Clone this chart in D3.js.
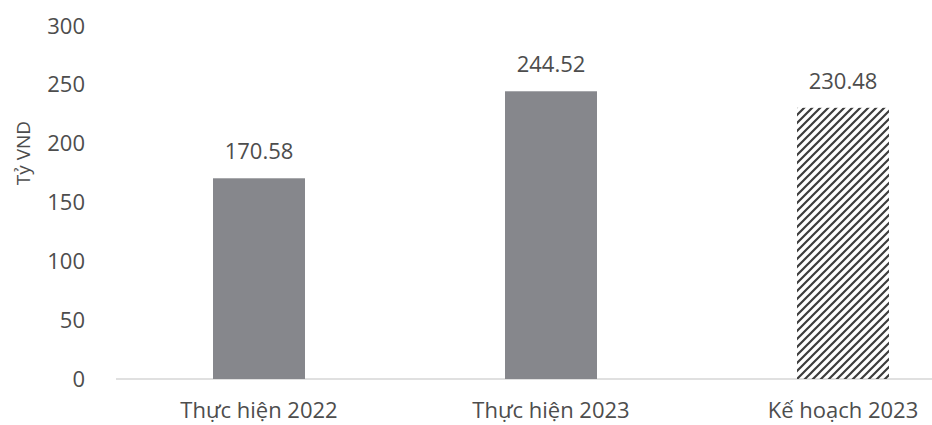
<!DOCTYPE html>
<html><head><meta charset="utf-8">
<script src="https://cdn.jsdelivr.net/npm/d3@7"></script>
<style>body{margin:0;background:#fff}svg{display:block}</style>
</head><body>
<svg id="c" width="932" height="425"></svg>
<script>
const categories = ["Thực hiện 2022", "Thực hiện 2023", "Kế hoạch 2023"];
const values = [170.58, 244.52, 230.48];
const hatched = [false, false, true];
const yTicks = [0, 50, 100, 150, 200, 250, 300];
const yTitle = "Tỷ VND";

const svg = d3.select("#c");
const font = "'Open Sans', sans-serif";
const textColor = "#4d4d4d";

const x = d3.scaleBand().domain(categories).range([113, 989]).paddingInner(0.685).paddingOuter(0.3425);
const y = d3.scaleLinear().domain([0, 300]).range([379, 26]);

const defs = svg.append("defs");
const pat = defs.append("pattern").attr("id", "hatch").attr("patternUnits", "userSpaceOnUse")
  .attr("width", 8).attr("height", 8);
pat.append("path").attr("d", "M-2,2 L2,-2 M0,8 L8,0 M6,10 L10,6")
  .attr("stroke", "#3c3c3c").attr("stroke-width", 2.2);

// baseline
svg.append("line").attr("x1", 116).attr("x2", 932).attr("y1", y(0)).attr("y2", y(0))
  .attr("stroke", "#d6d6d6").attr("stroke-width", 1.5);

// y axis
const yAxis = svg.append("g").attr("transform", "translate(85,0)")
  .call(d3.axisLeft(y).tickValues(yTicks).tickSize(0).tickPadding(0));
yAxis.select(".domain").remove();
yAxis.selectAll("text").attr("font-family", font).attr("font-size", 22).attr("fill", textColor);

svg.append("text").attr("transform", `translate(30,${y(192)}) rotate(-90)`)
  .attr("text-anchor", "middle").attr("font-family", font).attr("font-size", 19)
  .attr("fill", textColor).text(yTitle);

// bars
svg.selectAll("rect.bar").data(categories).enter().append("rect").attr("class", "bar")
  .attr("x", d => x(d)).attr("width", x.bandwidth())
  .attr("y", (d, i) => y(values[i])).attr("height", (d, i) => y(0) - y(values[i]))
  .attr("fill", (d, i) => hatched[i] ? "url(#hatch)" : "#86878c");

// value labels
svg.selectAll("text.val").data(categories).enter().append("text").attr("class", "val")
  .attr("x", d => x(d) + x.bandwidth() / 2).attr("y", (d, i) => y(values[i]) - 19)
  .attr("text-anchor", "middle").attr("font-family", font).attr("font-size", 22)
  .attr("fill", textColor).text((d, i) => values[i].toFixed(2));

// x axis
const xAxis = svg.append("g").attr("transform", `translate(0,${y(0)})`)
  .call(d3.axisBottom(x).tickSize(0).tickPadding(23));
xAxis.select(".domain").remove();
xAxis.selectAll("text").attr("font-family", font).attr("font-size", 22).attr("fill", textColor);
</script>
</body></html>
